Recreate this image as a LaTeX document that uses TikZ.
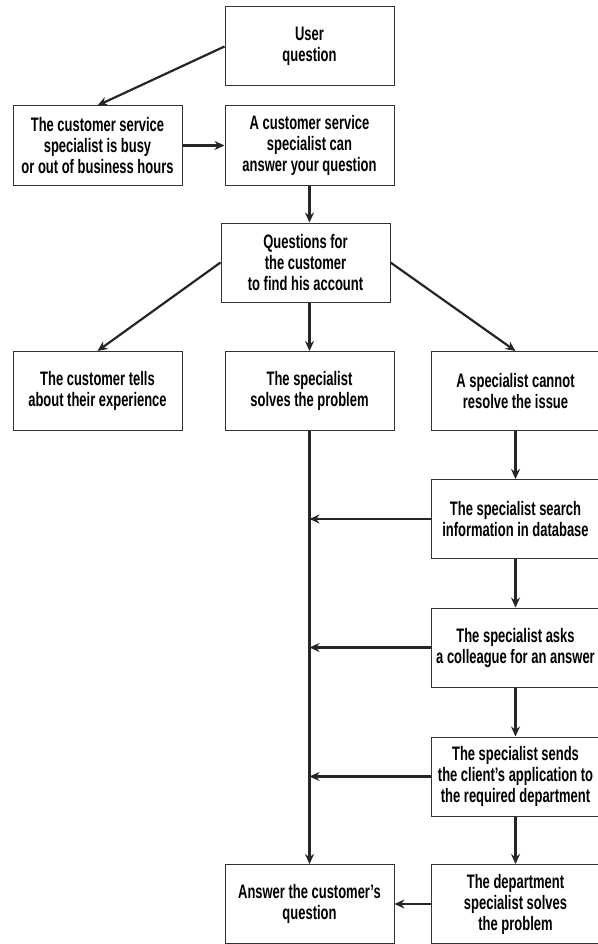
\documentclass[tikz,border=0pt]{standalone}
\usepackage{fontspec}
\setmainfont[FakeStretch=0.665, UprightFont={* Bold}]{Liberation Sans}
\usetikzlibrary{arrows.meta}

\begin{document}
\begin{tikzpicture}[x=1pt, y=-1pt,
    box/.style={draw=black!80, line width=1pt, minimum width=169pt, minimum height=79pt,
      align=center, inner sep=0pt, font=\fontsize{19.5}{21}\selectfont},
    arr/.style={-{Stealth[length=10pt, width=9pt]}, line width=2.2pt, black!85}]

    \useasboundingbox (0, 0) rectangle (597, 944);

    \def\lx{97.5};
    \def\mx{309.5};
    \def\rx{515.5};

    \node[box] (user)   at (\mx, 46.5)  {User\\question};
    \node[box] (busy)   at (\lx, 145.5) {The customer service\\specialist is busy\\or out of business hours};
    \node[box] (can)    at (\mx, 145.5) {A customer service\\specialist can\\answer your question};
    \node[box] (quest)  at (\mx-4, 262.5) {Questions for\\the customer\\to find his account};

    \node[box] (tells)  at (\lx, 391)   {The customer tells\\about their experience};
    \node[box] (solves) at (\mx, 391)   {The specialist\\solves the problem};
    \node[box] (cannot) at (\rx, 391)   {A specialist cannot\\resolve the issue};

    \node[box] (db)     at (\rx, 519)   {The specialist search\\information in database};
    \node[box] (asks)   at (\rx, 647.5) {The specialist asks\\a colleague for an answer};
    \node[box] (sends)  at (\rx, 776.5) {The specialist sends\\the client's application to\\the required department};
    \node[box] (dept)   at (\rx, 904)   {The department\\specialist solves\\the problem};
    \node[box] (answer) at (\mx, 904)   {Answer the customer's\\question};

    \draw[arr] (user.west) -- (busy.north);
    \draw[arr] (busy.east) -- (can.west);
    \draw[arr] (can.south) -- (can.south |- quest.north);
    \draw[arr] (quest.west) -- (tells.north);
    \draw[arr] (solves.north |- quest.south) -- (solves.north);
    \draw[arr] (quest.east) -- (cannot.north);
    \draw[arr] (solves.south) -- (answer.north);

    \foreach \a/\b in {cannot/db, db/asks, asks/sends, sends/dept} {
      \draw[arr] (\a.south) -- (\b.north);
    }

    \foreach \a in {db, asks, sends} {
      \draw[arr] (\a.west) -- (\a.west -| solves.south);
    }

    \draw[arr] (dept.west) -- (answer.east);

\end{tikzpicture}
\end{document}
